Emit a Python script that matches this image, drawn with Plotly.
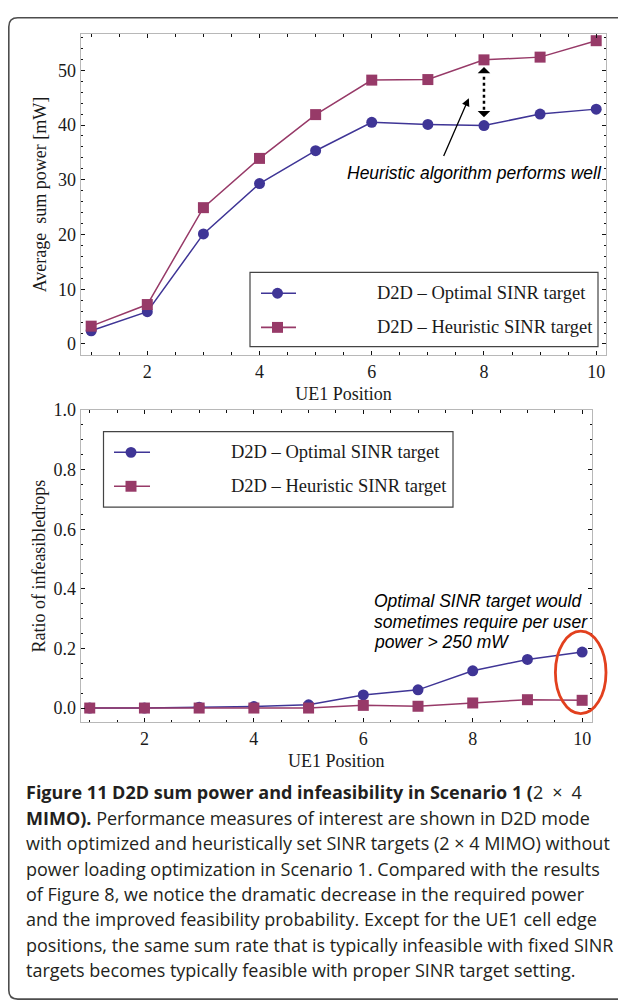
import plotly.graph_objects as go

W, H = 626, 1002
OFF = 8  # page body margin in the browser


def px(x):
    return (x - OFF) / W


def py(y):
    return 1 - (y - OFF) / H


# ---------------- data ----------------
positions = [1, 2, 3, 4, 5, 6, 7, 8, 9, 10]
power_optimal = [2.4, 5.9, 20.1, 29.3, 35.3, 40.5, 40.1, 39.9, 42.0, 42.9]
power_heuristic = [3.25, 7.2, 24.9, 33.9, 41.9, 48.2, 48.3, 51.9, 52.4, 55.4]
infeas_optimal = [0.0, 0.0, 0.003, 0.005, 0.011, 0.044, 0.061, 0.125, 0.163, 0.188]
infeas_heuristic = [0.0, 0.0, 0.0, 0.0, 0.0, 0.009, 0.006, 0.017, 0.028, 0.026]
series_names = ["D2D – Optimal SINR target", "D2D – Heuristic SINR target"]
x_ticks = [2, 4, 6, 8, 10]
y1_ticks = [0, 10, 20, 30, 40, 50]
y2_ticks = [0.0, 0.2, 0.4, 0.6, 0.8, 1.0]

BLUE = "#3f3596"
PLUM = "#973a68"
SERIF = "Liberation Serif"
SANS = "Liberation Sans"
CAP = "Open Sans"

fig = go.Figure()

for xa, ya, ys, col, sym, nm in [
    ("x", "y", power_optimal, BLUE, "circle", series_names[0]),
    ("x", "y", power_heuristic, PLUM, "square", series_names[1]),
    ("x2", "y2", infeas_optimal, BLUE, "circle", series_names[0]),
    ("x2", "y2", infeas_heuristic, PLUM, "square", series_names[1]),
]:
    fig.add_trace(go.Scatter(
        x=positions, y=ys, mode="lines+markers", name=nm,
        xaxis=xa, yaxis=ya, showlegend=False,
        line=dict(color=col, width=1.5),
        marker=dict(symbol=sym, size=11, color=col, line=dict(width=0)),
        cliponaxis=False,
    ))

tickfont = dict(family=SERIF, size=18, color="#1a1a1a")
titlefont = dict(family=SERIF, size=18, color="#1a1a1a")


def axis(domain, rng, tickvals, minor_dtick, anchor, title, standoff, fmt=None):
    d = dict(
        domain=domain, range=rng, anchor=anchor,
        tickmode="array", tickvals=tickvals,
        showline=True, linecolor="#b8b8b8", linewidth=1, mirror="allticks",
        ticks="inside", ticklen=4, tickwidth=1, tickcolor="#111",
        tickfont=tickfont, showgrid=False, zeroline=False,
        minor=dict(ticks="inside", ticklen=2.5, tickwidth=1, tickcolor="#111",
                   dtick=minor_dtick, tick0=0, showgrid=False),
        title=dict(text=title, font=titlefont, standoff=standoff),
    )
    if fmt:
        d["tickformat"] = fmt
    return d


fig.update_layout(
    width=W, height=H,
    margin=dict(l=0, r=0, t=0, b=0),
    paper_bgcolor="white", plot_bgcolor="white",
    showlegend=False,
    xaxis=axis([px(80.7), px(606.3)], [0.813, 10.18], x_ticks, 0.5, "y", "UE1 Position", 6),
    yaxis=axis([py(348.3), py(24.3)], [-2.0, 56.6], y1_ticks, 2, "x", "Average  sum power [mW]", 6),
    xaxis2=axis([px(80.7), px(592)], [0.835, 10.18], x_ticks, 0.5, "y2", "UE1 Position", 6),
    yaxis2=axis([py(719.3), py(404)], [-0.0475, 1.0], y2_ticks, 0.05, "x2", "Ratio of infeasibledrops", 3, ".1f"),
)

shapes = []
annotations = []

# outer rounded frame
r = 9
x0, y0, x1, y1 = 8.8, 7.8, 660, 999
path = (f"M {px(x0)},{py(y1 - r)} L {px(x0)},{py(y0 + r)} Q {px(x0)},{py(y0)} {px(x0 + r)},{py(y0)} "
        f"L {px(x1)},{py(y0)} L {px(x1)},{py(y1)} L {px(x0 + r)},{py(y1)} Q {px(x0)},{py(y1)} {px(x0)},{py(y1 - r)}")
shapes.append(dict(type="path", xref="paper", yref="paper", path=path,
                   line=dict(color="#4d4d4d", width=1.6)))


# manual legends
def legend(box, rows, line_x, mark_x, text_x):
    bx0, by0, bx1, by1 = box
    shapes.append(dict(type="rect", xref="paper", yref="paper",
                       x0=px(bx0), x1=px(bx1), y0=py(by1), y1=py(by0),
                       line=dict(color="#444", width=1.2), fillcolor="white", layer="above"))
    for (yy, col, kind, name) in rows:
        shapes.append(dict(type="line", xref="paper", yref="paper",
                           x0=px(line_x[0]), x1=px(line_x[1]), y0=py(yy), y1=py(yy),
                           line=dict(color=col, width=1.6), layer="above"))
        s = 5.5
        shapes.append(dict(type="circle" if kind == "circle" else "rect", xref="paper", yref="paper",
                           x0=px(mark_x - s), x1=px(mark_x + s), y0=py(yy + s), y1=py(yy - s),
                           fillcolor=col, line=dict(width=0), layer="above"))
        annotations.append(dict(xref="paper", yref="paper", x=px(text_x), y=py(yy),
                                xanchor="left", yanchor="middle", showarrow=False,
                                text=name, font=dict(family=SERIF, size=18.5, color="#1a1a1a")))


legend((250, 265, 598, 340),
       [(286, BLUE, "circle", series_names[0]), (320.5, PLUM, "square", series_names[1])],
       (261, 296), 277.5, 375)
legend((103.5, 425.7, 453, 502),
       [(446.7, BLUE, "circle", series_names[0]), (481, PLUM, "square", series_names[1])],
       (114, 150), 131, 229)

# top annotations
annotations.append(dict(x=7.73, y=44.9, ax=7.27, ay=34.05, xref="x", yref="y", axref="x", ayref="y",
                        showarrow=True, arrowhead=2, arrowsize=1.2, arrowwidth=1.3,
                        arrowcolor="black", text=""))
annotations.append(dict(x=5.52, y=31.3, xref="x", yref="y", xanchor="left", yanchor="middle",
                        showarrow=False, text="<i>Heuristic algorithm performs well</i>",
                        font=dict(family=SANS, size=17.5, color="black")))
shapes.append(dict(type="line", xref="x", yref="y", x0=8, x1=8, y0=42.8, y1=49.2,
                   line=dict(color="black", width=2.5, dash="dot")))
annotations.append(dict(x=8, y=50.6, xref="x", yref="y", ax=0, ay=7, showarrow=True,
                        arrowhead=1, arrowsize=1.4, arrowwidth=1.5, arrowcolor="black", text=""))
annotations.append(dict(x=8, y=41.4, xref="x", yref="y", ax=0, ay=-7, showarrow=True,
                        arrowhead=1, arrowsize=1.4, arrowwidth=1.5, arrowcolor="black", text=""))

# bottom annotations
for txt, yy in [("Optimal SINR target would", 0.36),
                ("sometimes require per user", 0.289),
                ("power &gt; 250 mW", 0.2216)]:
    annotations.append(dict(x=6.16, y=yy, xref="x2", yref="y2", xanchor="left", yanchor="middle",
                            showarrow=False, text=f"<i>{txt}</i>",
                            font=dict(family=SANS, size=17.5, color="black")))
cx, cy, rx, ry = 580.7, 669, 25.3, 41.7
shapes.append(dict(type="circle", xref="paper", yref="paper",
                   x0=px(cx - rx), x1=px(cx + rx), y0=py(cy + ry), y1=py(cy - ry),
                   line=dict(color="#e2401e", width=2.8)))

# caption
caption_lines = [
    "<b>Figure 11 D2D sum power and infeasibility in Scenario 1 (</b>2\u2002×\u20024",
    "<b>MIMO).</b> Performance measures of interest are shown in D2D mode",
    "with optimized and heuristically set SINR targets (2 × 4 MIMO) without",
    "power loading optimization in Scenario 1. Compared with the results",
    "of Figure 8, we notice the dramatic decrease in the required power",
    "and the improved feasibility probability. Except for the UE1 cell edge",
    "positions, the same sum rate that is typically infeasible with fixed SINR",
    "targets becomes typically feasible with proper SINR target setting.",
]
for i, line in enumerate(caption_lines):
    annotations.append(dict(xref="paper", yref="paper", x=px(24), y=py(790 + i * 25.7),
                            xanchor="left", yanchor="middle", showarrow=False, text=line,
                            font=dict(family=CAP, size=18, color="#231f20")))

fig.update_layout(shapes=shapes, annotations=annotations)
fig.write_html("out.html")
